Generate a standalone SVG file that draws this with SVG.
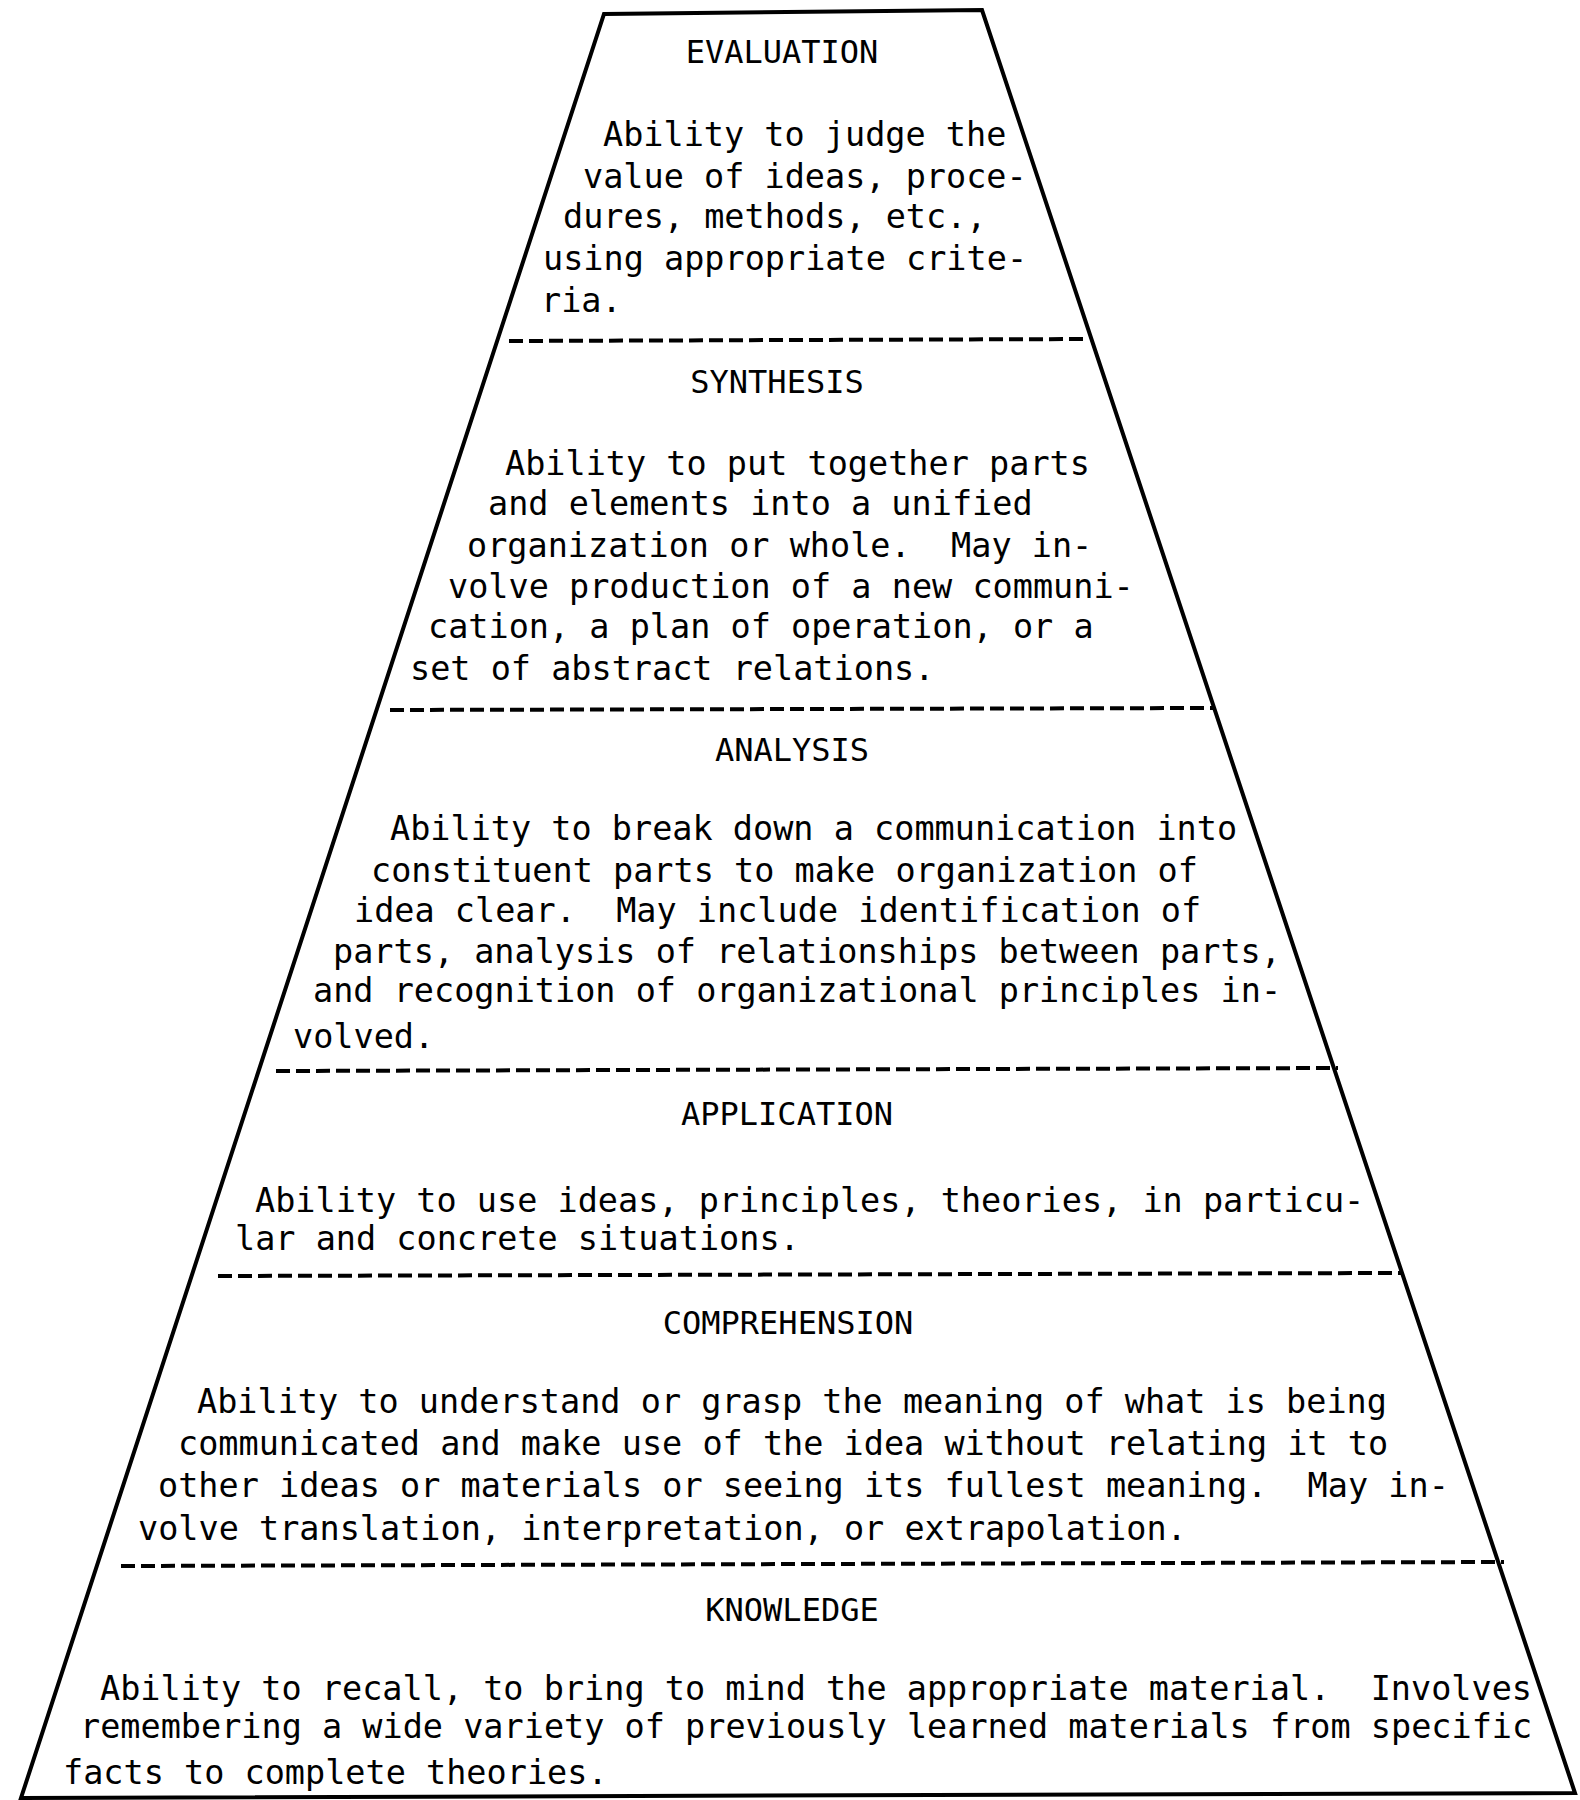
<svg xmlns="http://www.w3.org/2000/svg" width="1580" height="1800" viewBox="0 0 1580 1800">
<style>
text{font-family:"DejaVu Sans Mono","Liberation Mono",monospace;font-size:33.5px;fill:#000;white-space:pre}
.t{text-anchor:middle;font-size:32px}
.sep{stroke:#000;stroke-width:4;stroke-dasharray:14 6;fill:none}
.edge{stroke:#000;stroke-width:4;fill:none;stroke-linejoin:miter}
</style>
<rect width="1580" height="1800" fill="#fff"/>
<g id="outline">
<polygon class="edge" points="604,14 982,10 1575,1793 21,1798"/>
</g>
<g id="separators">
<line class="sep" x1="509" y1="341" x2="1089" y2="339"/>
<line class="sep" x1="390" y1="710" x2="1215" y2="708"/>
<line class="sep" x1="276" y1="1071" x2="1338" y2="1068"/>
<line class="sep" x1="218" y1="1276" x2="1401" y2="1273"/>
<line class="sep" x1="121" y1="1566" x2="1504" y2="1562"/>
</g>
<g id="evaluation">
<text class="t" x="782" y="63">EVALUATION</text>
<text x="603" y="146">Ability to judge the</text>
<text x="583" y="188">value of ideas, proce-</text>
<text x="563" y="228">dures, methods, etc.,</text>
<text x="543" y="270">using appropriate crite-</text>
<text x="541" y="312">ria.</text>
</g>
<g id="synthesis">
<text class="t" x="777" y="393">SYNTHESIS</text>
<text x="505" y="475">Ability to put together parts</text>
<text x="488" y="515">and elements into a unified</text>
<text x="467" y="557" xml:space="preserve">organization or whole.  May in-</text>
<text x="448" y="598">volve production of a new communi-</text>
<text x="428" y="638">cation, a plan of operation, or a</text>
<text x="410" y="680">set of abstract relations.</text>
</g>
<g id="analysis">
<text class="t" x="792" y="761">ANALYSIS</text>
<text x="390" y="840">Ability to break down a communication into</text>
<text x="371" y="882">constituent parts to make organization of</text>
<text x="354" y="922" xml:space="preserve">idea clear.  May include identification of</text>
<text x="333" y="963">parts, analysis of relationships between parts,</text>
<text x="313" y="1002">and recognition of organizational principles in-</text>
<text x="293" y="1048">volved.</text>
</g>
<g id="application">
<text class="t" x="787" y="1125">APPLICATION</text>
<text x="255" y="1212">Ability to use ideas, principles, theories, in particu-</text>
<text x="235" y="1250">lar and concrete situations.</text>
</g>
<g id="comprehension">
<text class="t" x="788" y="1334">COMPREHENSION</text>
<text x="197" y="1413">Ability to understand or grasp the meaning of what is being</text>
<text x="178" y="1455">communicated and make use of the idea without relating it to</text>
<text x="158" y="1497" xml:space="preserve">other ideas or materials or seeing its fullest meaning.  May in-</text>
<text x="138" y="1540">volve translation, interpretation, or extrapolation.</text>
</g>
<g id="knowledge">
<text class="t" x="792" y="1621">KNOWLEDGE</text>
<text x="100" y="1700" xml:space="preserve">Ability to recall, to bring to mind the appropriate material.  Involves</text>
<text x="80" y="1738">remembering a wide variety of previously learned materials from specific</text>
<text x="63" y="1784">facts to complete theories.</text>
</g>
</svg>
